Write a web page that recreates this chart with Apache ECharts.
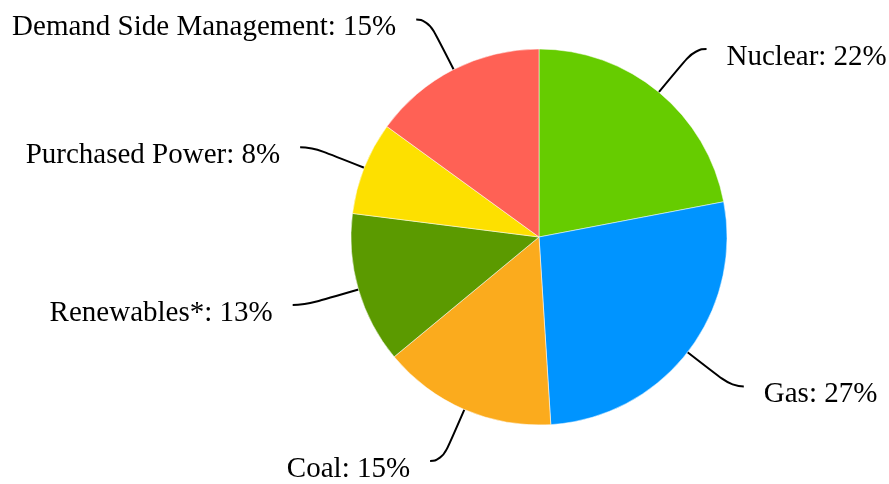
<!DOCTYPE html>
<html>
<head>
<meta charset="utf-8">
<script src="https://cdn.jsdelivr.net/npm/echarts@6/dist/echarts.min.js"></script>
<style>html,body{margin:0;padding:0;background:#fff}#c{width:889px;height:484px}</style>
</head>
<body>
<div id="c"></div>
<script>
const categories = ['Nuclear', 'Gas', 'Coal', 'Renewables*', 'Purchased Power', 'Demand Side Management'];
const values = [22, 27, 15, 13, 8, 15];
const colors = ['#66cc00', '#0094ff', '#fbab1d', '#5b9a00', '#fde000', '#ff6155'];

const chart = echarts.init(document.getElementById('c'), null, {renderer: 'canvas'});
chart.setOption({
  animation: false,
  series: [{
    type: 'pie',
    center: [539, 237],
    radius: 188,
    startAngle: 90,
    clockwise: true,
    avoidLabelOverlap: false,
    data: categories.map((n, i) => ({name: n, value: values[i], itemStyle: {color: colors[i]}})),
    itemStyle: {borderColor: '#fff', borderWidth: 0.5},
    label: {
      show: true,
      formatter: '{b}: {c}%',
      fontFamily: 'Liberation Serif',
      fontSize: 29,
      color: '#000',
      distanceToLabelLine: 20
    },
    labelLayout: {dy: 8},
    labelLine: {
      show: true,
      length: 56,
      length2: 12,
      smooth: 0.6,
      lineStyle: {color: '#000', width: 2}
    },
    emphasis: {disabled: true}
  }]
});
</script>
</body>
</html>
